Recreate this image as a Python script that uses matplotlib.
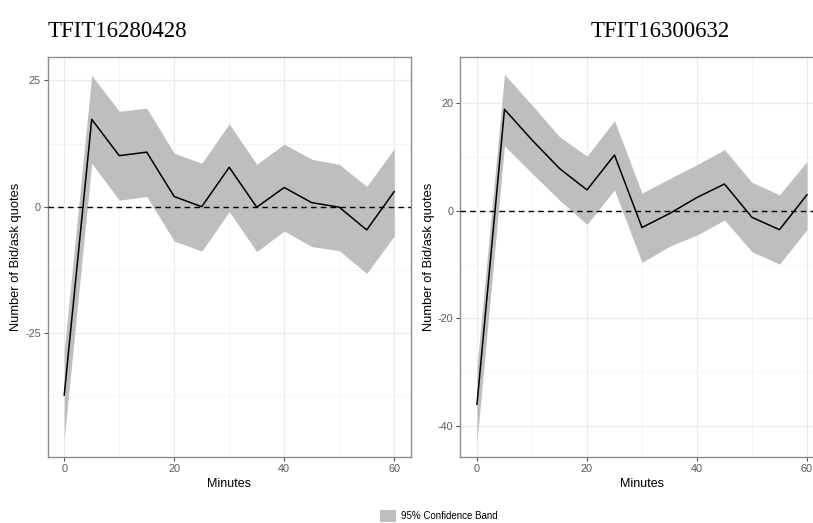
import matplotlib.pyplot as plt
from matplotlib.patches import Patch
from matplotlib.ticker import MultipleLocator

plt.rcParams['font.family'] = ['Liberation Sans', 'DejaVu Sans']
plt.rcParams['axes.unicode_minus'] = False

minutes = [0, 5, 10, 15, 20, 25, 30, 35, 40, 45, 50, 55, 60]

# TFIT16280428
left_mean = [-37.3, 17.3, 10.1, 10.8, 2.0, 0.0, 7.8, -0.1, 3.8, 0.8, -0.1, -4.6, 3.0]
left_upper = [-28.5, 26.0, 18.9, 19.5, 10.6, 8.6, 16.4, 8.4, 12.4, 9.4, 8.4, 4.0, 11.5]
left_lower = [-46.0, 8.6, 1.3, 2.0, -6.8, -8.8, -1.0, -8.9, -4.8, -7.9, -8.7, -13.2, -5.8]

# TFIT16300632
right_mean = [-36.0, 18.9, 13.2, 7.9, 3.9, 10.4, -3.1, -0.5, 2.5, 5.0, -1.2, -3.5, 3.0]
right_upper = [-29.0, 25.4, 19.7, 13.8, 10.2, 16.8, 3.3, 6.0, 8.6, 11.4, 5.3, 3.0, 9.2]
right_lower = [-43.0, 12.1, 7.0, 2.0, -2.5, 3.9, -9.6, -6.6, -4.5, -1.7, -7.6, -9.9, -3.5]

titles = ['TFIT16280428', 'TFIT16300632']
band_label = '95% Confidence Band'
band_color = '#bebebe'

fig = plt.figure(figsize=(8.13, 5.23), dpi=100)
ax1 = fig.add_axes([0.0587, 0.1268, 0.4465, 0.7648])
ax2 = fig.add_axes([0.5664, 0.1268, 0.4465, 0.7648])


def style_panel(ax, mean, upper, lower, ylim, major):
    ax.fill_between(minutes, lower, upper, color=band_color, lw=0, zorder=2)
    ax.plot(minutes, mean, color='black', lw=1.1, zorder=3)
    ax.axhline(0, color='black', lw=1.0, ls=(0, (4, 3)), zorder=4)
    ax.set_xlim(-3, 63)
    ax.set_ylim(*ylim)
    ax.xaxis.set_major_locator(MultipleLocator(20))
    ax.xaxis.set_minor_locator(MultipleLocator(10))
    ax.yaxis.set_major_locator(MultipleLocator(major))
    ax.yaxis.set_minor_locator(MultipleLocator(major / 2))
    ax.grid(which='major', color='#ebebeb', lw=0.8, zorder=0)
    ax.grid(which='minor', color='#f4f4f4', lw=0.6, zorder=0)
    ax.set_axisbelow(True)
    for s in ax.spines.values():
        s.set_color('#8c8c8c')
        s.set_linewidth(1.0)
    ax.tick_params(which='major', length=3, color='#555555', labelsize=7.8,
                   labelcolor='#5a5a5a', pad=2)
    ax.tick_params(which='minor', length=0)
    ax.set_xlabel('Minutes', fontsize=9, labelpad=3)
    ax.set_ylabel('Number of Bid/ask quotes', fontsize=9.3, labelpad=2)


style_panel(ax1, left_mean, left_upper, left_lower, (-49.5, 29.7), 25)
style_panel(ax2, right_mean, right_upper, right_lower, (-45.75, 28.7), 20)

fig.text(0.145, 0.929, titles[0], fontsize=16.5, family=['Liberation Serif'],
         ha='center', va='baseline')
fig.text(0.812, 0.929, titles[1], fontsize=16.5, family=['Liberation Serif'],
         ha='center', va='baseline')

fig.legend(handles=[Patch(facecolor=band_color, edgecolor='none', label=band_label)],
           loc='lower center', bbox_to_anchor=(0.54, -0.015), frameon=False,
           fontsize=7, handlelength=1.6, handleheight=1.6, handletextpad=0.6)

fig.savefig('out.png', dpi=100)
